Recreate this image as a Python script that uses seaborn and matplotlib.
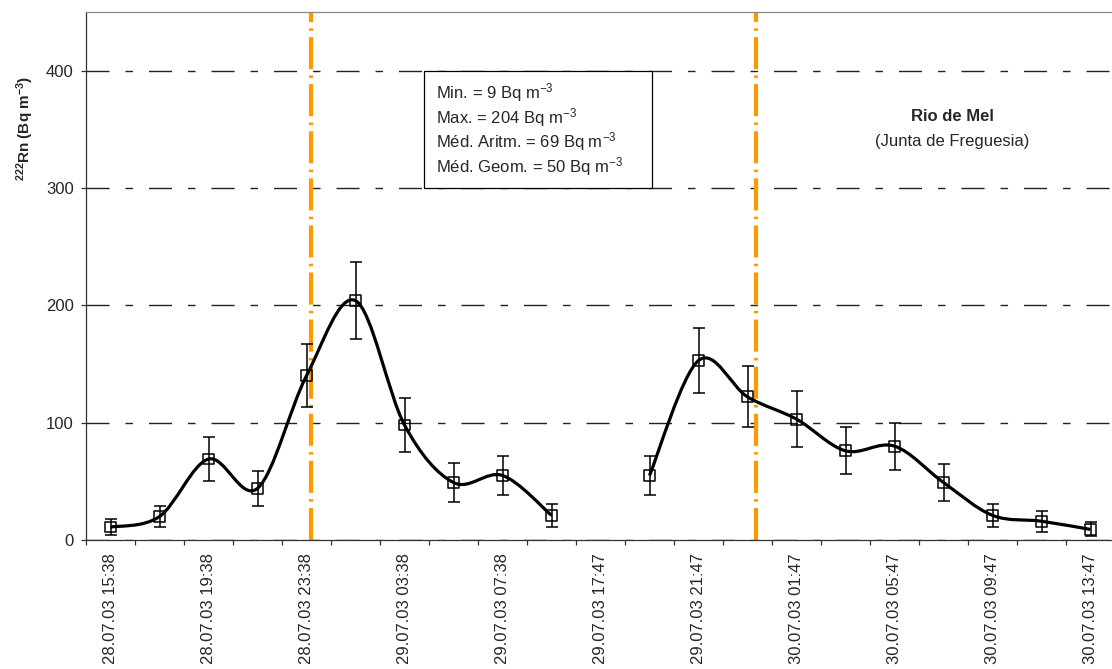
#222Rn time series, Rio de Mel (Junta de Freguesia)
#smoothed line through hourly-ish measurements with error bars

import numpy as np
import pandas as pd
import seaborn as sns
import matplotlib.pyplot as plt
from matplotlib.path import Path
from matplotlib.patches import PathPatch, Rectangle

times = ["28.07.03 15:38", "28.07.03 17:38", "28.07.03 19:38", "28.07.03 21:38",
         "28.07.03 23:38", "29.07.03 01:38", "29.07.03 03:38", "29.07.03 05:38",
         "29.07.03 07:38", "29.07.03 09:38", "29.07.03 17:47", "29.07.03 19:47",
         "29.07.03 21:47", "29.07.03 23:47", "30.07.03 01:47", "30.07.03 03:47",
         "30.07.03 05:47", "30.07.03 07:47", "30.07.03 09:47", "30.07.03 11:47",
         "30.07.03 13:47"]
rn = [11, 20, 69, 44, 140, 204, 98, 49, 55, 21, np.nan,
      55, 153, 122, 103, 76, 80, 49, 21, 16, 9]
rn_err = [7, 9, 19, 15, 27, 33, 23, 17, 17, 10, np.nan,
          17, 28, 26, 24, 20, 20, 16, 10, 9, 6]
# midnight markers (category position)
midnight_pos = [4.1, 13.18]
stats_lines = ["Min. = 9 Bq m$^{-3}$", "Max. = 204 Bq m$^{-3}$",
               "Méd. Aritm. = 69 Bq m$^{-3}$", "Méd. Geom. = 50 Bq m$^{-3}$"]

sns.set_style("white")
plt.rcParams['font.family'] = ['Liberation Sans', 'DejaVu Sans']
plt.rcParams['mathtext.fontset'] = 'custom'
plt.rcParams['mathtext.rm'] = 'Liberation Sans'
plt.rcParams['mathtext.it'] = 'Liberation Sans:italic'
plt.rcParams['mathtext.bf'] = 'Liberation Sans:bold'

df = pd.DataFrame({"pos": np.arange(len(times)), "time": times, "rn": rn, "err": rn_err})


def smooth_path(x, y):
    #excel-like smoothed line: catmull-rom as cubic bezier
    pts = np.column_stack([x, y]).astype(float)
    n = len(pts)
    verts = [pts[0]]
    codes = [Path.MOVETO]
    for i in range(n - 1):
        p0 = pts[max(i - 1, 0)]
        p1 = pts[i]
        p2 = pts[i + 1]
        p3 = pts[min(i + 2, n - 1)]
        verts += [p1 + (p2 - p0) / 6, p2 - (p3 - p1) / 6, p2]
        codes += [Path.CURVE4] * 3
    return Path(verts, codes)


fig = plt.figure(figsize=(11.12, 6.69), dpi=100)
ax = fig.add_axes([86 / 1112, 129 / 669, 1029 / 1112, 528 / 669])

# gridlines
ax.set_axisbelow(True)
ax.yaxis.grid(True, color="#222222", lw=1.0, ls=(0, (16.6, 11.5, 5.4, 11.5)))

# midnight lines
for xm in midnight_pos:
    ax.axvline(xm, color="#FF9900", lw=3, ls=(0, (7.7, 1.5, 0.6, 1.5)), zorder=2)

# smoothed curve, one piece per run of valid data
valid = df["rn"].notna().values
groups = (valid != np.roll(valid, 1)).cumsum()
for g in np.unique(groups[valid]):
    sub = df[(groups == g) & valid]
    ax.add_patch(PathPatch(smooth_path(sub["pos"], sub["rn"]), fc="none", ec="black",
                           lw=2.3, zorder=3))

ax.errorbar(df["pos"], df["rn"], yerr=df["err"], fmt="none", ecolor="black",
            elinewidth=1.1, capsize=4, capthick=1.1, zorder=4)
sns.scatterplot(data=df, x="pos", y="rn", marker="s", s=60, facecolor="none",
                edgecolor="black", linewidth=1.1, zorder=5, ax=ax, legend=False)

# stats box
ax.add_patch(Rectangle((6.39, 300), 4.67, 100, fc="white", ec="black", lw=0.9, zorder=6))
for k, line in enumerate(stats_lines):
    ax.text(6.65, 381.2 - 21 * k, line, fontsize=12, va="center", ha="left", zorder=7)

ax.text(17.18, 360.8, "Rio de Mel", fontsize=12, fontweight="bold", ha="center", va="center")
ax.text(17.18, 339.4, "(Junta de Freguesia)", fontsize=12, ha="center", va="center")

ax.set_xlim(-0.5, 20.5)
ax.set_ylim(0, 450)
ax.set_yticks([0, 100, 200, 300, 400])
ax.set_xticks(df["pos"][::2])
ax.set_xticklabels(df["time"][::2], rotation=90, fontsize=12)
ax.set_xticks(np.arange(-0.5, 21, 1), minor=True)
ax.tick_params(axis="x", which="major", length=0, pad=9.5)
ax.tick_params(axis="x", which="minor", length=3.8, width=0.9, color="#333333", direction="out", bottom=True)
ax.tick_params(axis="y", which="major", length=3.8, width=0.9, color="#333333", direction="out",
               left=True, labelsize=12, pad=5)
ax.set_xlabel("")
ax.set_ylabel("")

for s in ["left", "bottom"]:
    ax.spines[s].set_color("#333333")
    ax.spines[s].set_linewidth(0.9)
ax.spines["top"].set_color("#888888")
ax.spines["top"].set_linewidth(0.9)
ax.spines["right"].set_visible(False)

fig.text(25 / 1112, 1 - 128 / 669, r"$^{\mathbf{222}}$Rn (Bq m$^{\mathbf{-3}}$)", rotation=90,
         fontsize=11, fontweight="bold", ha="center", va="center")

plt.savefig("out.png", dpi=100)
